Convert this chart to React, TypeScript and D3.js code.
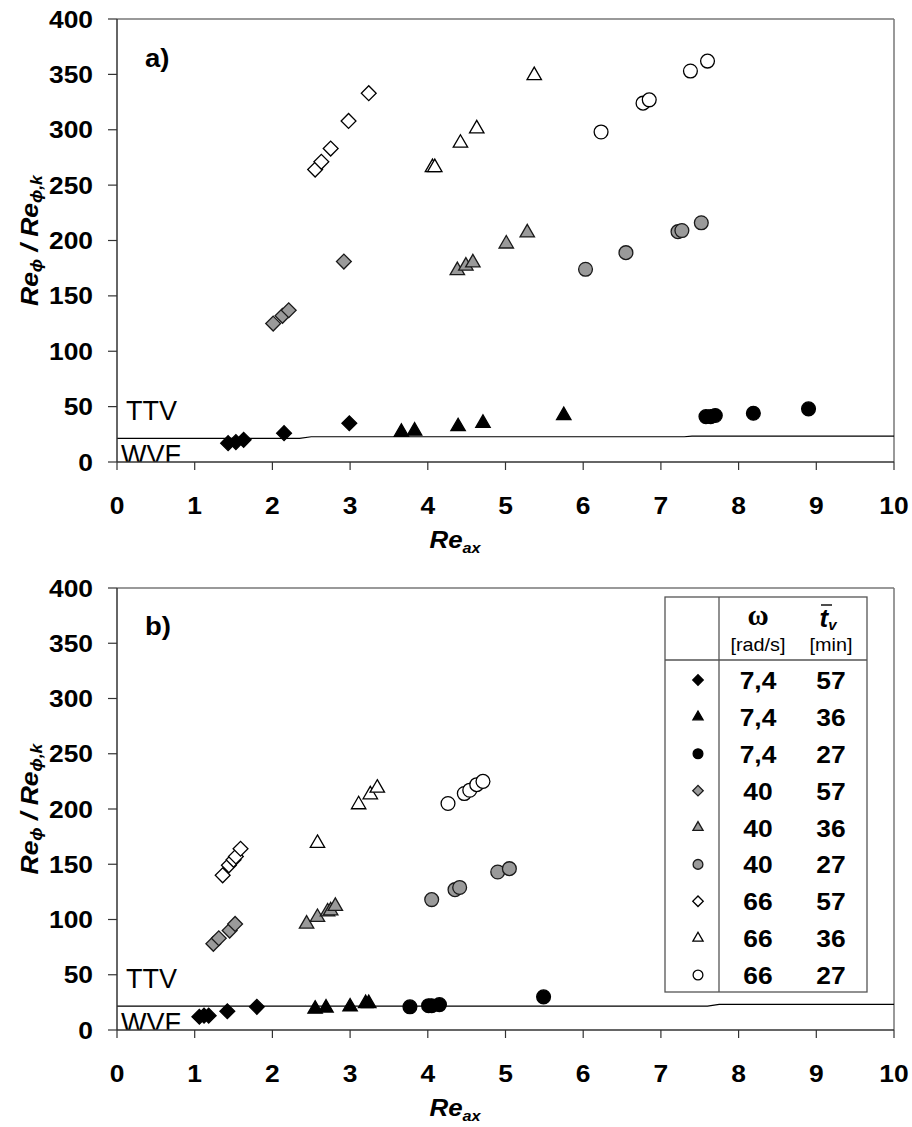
import React from "react";
import * as d3 from "d3";

// ---------- data ----------
const xTicks = [0, 1, 2, 3, 4, 5, 6, 7, 8, 9, 10];
const yTicks = [0, 50, 100, 150, 200, 250, 300, 350, 400];

const seriesKeys = ["d74", "t74", "c74", "d40", "t40", "c40", "d66", "t66", "c66"];
const omegaLabels = ["7,4", "7,4", "7,4", "40", "40", "40", "66", "66", "66"];
const tvLabels = ["57", "36", "27", "57", "36", "27", "57", "36", "27"];

// panel a)
const aD74 = [[1.43, 17], [1.53, 18], [1.63, 20], [2.15, 26], [2.99, 35]];
const aT74 = [[3.66, 27], [3.83, 28], [4.39, 32], [4.71, 35], [5.75, 42]];
const aC74 = [[7.58, 41], [7.64, 41], [7.7, 42], [8.19, 44], [8.9, 48]];
const aD40 = [[2.01, 125], [2.13, 132], [2.21, 137], [2.92, 181]];
const aT40 = [[4.38, 173], [4.49, 177], [4.58, 180], [5.01, 197], [5.28, 207]];
const aC40 = [[6.03, 174], [6.55, 189], [7.22, 208], [7.27, 209], [7.52, 216]];
const aD66 = [[2.55, 264], [2.63, 271], [2.75, 283], [2.98, 308], [3.24, 333]];
const aT66 = [[4.06, 266], [4.09, 266], [4.42, 288], [4.63, 301], [5.37, 349]];
const aC66 = [[6.23, 298], [6.77, 324], [6.85, 327], [7.38, 353], [7.6, 362]];
const boundaryA = [[0, 21.4], [2.35, 21.4], [2.5, 22.8], [7.3, 22.8], [7.4, 23.4], [10, 23.4]];

// panel b)
const bD74 = [[1.06, 12], [1.12, 13], [1.18, 13], [1.42, 17], [1.8, 21]];
const bT74 = [[2.55, 19], [2.69, 20], [3.0, 21], [3.2, 24], [3.24, 24]];
const bC74 = [[3.77, 21], [4.01, 22], [4.05, 22], [4.15, 23], [5.49, 30]];
const bD40 = [[1.24, 78], [1.31, 83], [1.45, 90], [1.52, 96]];
const bT40 = [[2.44, 96], [2.58, 102], [2.71, 107], [2.75, 108], [2.81, 112]];
const bC40 = [[4.05, 118], [4.35, 127], [4.41, 129], [4.9, 143], [5.05, 146]];
const bD66 = [[1.36, 140], [1.44, 149], [1.5, 154], [1.53, 157], [1.59, 164]];
const bT66 = [[2.58, 169], [3.11, 204], [3.26, 213], [3.35, 219]];
const bC66 = [[4.26, 205], [4.47, 214], [4.54, 217], [4.63, 222], [4.71, 225]];
const boundaryB = [[0, 21.6], [7.6, 21.6], [7.75, 23.2], [10, 23.2]];

const panelAData = [aD74, aT74, aC74, aD40, aT40, aC40, aD66, aT66, aC66];
const panelBData = [bD74, bT74, bC74, bD40, bT40, bC40, bD66, bT66, bC66];

// ---------- styles ----------
const FONT = "'Liberation Sans', Arial, Helvetica, sans-serif";
const SERIF = "'Liberation Serif', 'DejaVu Serif', serif";
const styleMap: Record<string, { shape: string; fill: string; stroke: string }> = {
  d74: { shape: "diamond", fill: "#000", stroke: "#000" },
  t74: { shape: "triangle", fill: "#000", stroke: "#000" },
  c74: { shape: "circle", fill: "#000", stroke: "#000" },
  d40: { shape: "diamond", fill: "#9a9a9a", stroke: "#1a1a1a" },
  t40: { shape: "triangle", fill: "#9a9a9a", stroke: "#1a1a1a" },
  c40: { shape: "circle", fill: "#9a9a9a", stroke: "#1a1a1a" },
  d66: { shape: "diamond", fill: "#fff", stroke: "#000" },
  t66: { shape: "triangle", fill: "#fff", stroke: "#000" },
  c66: { shape: "circle", fill: "#fff", stroke: "#000" },
};

function markerPath(shape: string, k: number) {
  if (shape === "diamond") return d3.symbol(d3.symbolSquare, 110 * k)() as string;
  if (shape === "triangle") return d3.symbol(d3.symbolTriangle, 90 * k)() as string;
  return d3.symbol(d3.symbolCircle, 150 * k)() as string;
}

function Marker({ x, y, key2, k }: { x: number; y: number; key2: string; k: number }) {
  const s = styleMap[key2];
  const rot = s.shape === "diamond" ? " rotate(45)" : "";
  return (
    <path
      d={markerPath(s.shape, k)}
      transform={`translate(${x},${y})${rot}`}
      fill={s.fill}
      stroke={s.stroke}
      strokeWidth={1.3}
    />
  );
}

// bold, slightly widened text like the reference
function BT({
  x,
  y,
  anchor,
  size = 24,
  children,
}: {
  x: number;
  y: number;
  anchor: string;
  size?: number;
  children: React.ReactNode;
}) {
  return (
    <text
      transform={`translate(${x},${y}) scale(1.1,1)`}
      textAnchor={anchor}
      fontFamily={FONT}
      fontSize={size}
      fontWeight="bold"
      fill="#000"
    >
      {children}
    </text>
  );
}

const x = d3.scaleLinear().domain([0, 10]).range([117, 894]);

function Panel({
  top,
  bottom,
  data,
  boundary,
  label,
  legend,
  id,
}: {
  top: number;
  bottom: number;
  data: number[][][];
  boundary: number[][];
  label: string;
  legend: boolean;
  id: string;
}) {
  const y = d3.scaleLinear().domain([0, 400]).range([bottom, top]);
  const line = d3
    .line<number[]>()
    .x((d) => x(d[0]))
    .y((d) => y(d[1]));
  const left = x(0);
  const right = x(10);
  const off = bottom - 462;
  return (
    <g>
      <defs>
        <clipPath id={id}>
          <rect x={left} y={top} width={right - left} height={bottom - top} />
        </clipPath>
      </defs>
      {/* frame */}
      <line x1={left} x2={right} y1={top} y2={top} stroke="#777" strokeWidth={1.5} />
      <line x1={right} x2={right} y1={top} y2={bottom} stroke="#777" strokeWidth={1.5} />
      {/* regime texts */}
      <g clipPath={`url(#${id})`}>
        <text x={126} y={420 + off} fontFamily={FONT} fontSize={27} fill="#000">
          TTV
        </text>
        <text x={121} y={464 + off} fontFamily={FONT} fontSize={27} fill="#000">
          WVF
        </text>
      </g>
      {/* boundary line */}
      <path d={line(boundary) as string} fill="none" stroke="#000" strokeWidth={1.2} />
      {/* label */}
      <BT x={145} y={67 + off} anchor="start" size={25}>
        {label}
      </BT>
      {/* legend table */}
      {legend && <LegendTable />}
      {/* markers */}
      {data.map((series, si) =>
        series.map((d, i) => (
          <Marker key={`${si}-${i}`} x={x(d[0])} y={y(d[1])} key2={seriesKeys[si]} k={1} />
        ))
      )}
      {/* axes */}
      <line x1={left} x2={left} y1={top} y2={bottom} stroke="#333" strokeWidth={1.5} />
      <line x1={left} x2={right} y1={bottom} y2={bottom} stroke="#333" strokeWidth={1.5} />
      {yTicks.map((t) => (
        <g key={`y${t}`}>
          <line x1={left - 9} x2={left} y1={y(t)} y2={y(t)} stroke="#333" strokeWidth={1.2} />
          <BT x={93} y={y(t) + 8.5} anchor="end">
            {t}
          </BT>
        </g>
      ))}
      {xTicks.map((t) => (
        <g key={`x${t}`}>
          <line x1={x(t)} x2={x(t)} y1={bottom} y2={bottom + 8} stroke="#333" strokeWidth={1.2} />
          <BT x={x(t)} y={bottom + 51.5} anchor="middle">
            {t}
          </BT>
        </g>
      ))}
      {/* x title */}
      <text
        transform={`translate(455,${bottom + 86}) scale(1.08,1)`}
        textAnchor="middle"
        fontFamily={FONT}
        fontSize={24}
        fontWeight="bold"
        fontStyle="italic"
      >
        Re
        <tspan fontSize={15} dy={5}>
          ax
        </tspan>
      </text>
      {/* y title */}
      <text
        transform={`translate(38,${(top + bottom) / 2}) rotate(-90) scale(1.1,1)`}
        textAnchor="middle"
        fontFamily={FONT}
        fontSize={24}
        fontWeight="bold"
        fontStyle="italic"
      >
        Re
        <tspan fontSize={16} dy={4}>
          ϕ
        </tspan>
        <tspan dy={-4}> / Re</tspan>
        <tspan fontSize={16} dy={4}>
          ϕ,k
        </tspan>
      </text>
    </g>
  );
}

function LegendTable() {
  const bx0 = 665;
  const bx1 = 867;
  const by0 = 597;
  const by1 = 992;
  const div = 719;
  const hdr = 660;
  const rowY = d3.scaleLinear().domain([0, 8]).range([680, 975]);
  const c1 = 758;
  const c2 = 831;
  const mx = 698;
  return (
    <g>
      <rect x={bx0} y={by0} width={bx1 - bx0} height={by1 - by0} fill="#fff" stroke="#555" strokeWidth={1.3} />
      <line x1={div} x2={div} y1={by0} y2={by1} stroke="#555" strokeWidth={1.3} />
      <line x1={bx0} x2={bx1} y1={hdr} y2={hdr} stroke="#555" strokeWidth={1.3} />
      <text x={c1} y={625} textAnchor="middle" fontFamily={SERIF} fontSize={29} fontWeight="bold" fill="#000">
        ω
      </text>
      <text
        transform={`translate(${c1},651) scale(1.1,1)`}
        textAnchor="middle"
        fontFamily={FONT}
        fontSize={18}
      >
        [rad/s]
      </text>
      <text x={c2 - 3} y={627} textAnchor="middle" fontFamily={FONT} fontSize={26} fontWeight="bold" fontStyle="italic">
        t
        <tspan fontSize={15} dy={3}>
          v
        </tspan>
      </text>
      <line x1={c2 - 10} x2={c2 + 1} y1={605} y2={605} stroke="#000" strokeWidth={1.4} />
      <text
        transform={`translate(${c2},651) scale(1.1,1)`}
        textAnchor="middle"
        fontFamily={FONT}
        fontSize={18}
      >
        [min]
      </text>
      {seriesKeys.map((k, i) => (
        <g key={k}>
          <Marker x={mx} y={rowY(i)} key2={k} k={0.5} />
          <BT x={c1} y={rowY(i) + 9} anchor="middle">
            {omegaLabels[i]}
          </BT>
          <BT x={c2} y={rowY(i) + 9} anchor="middle">
            {tvLabels[i]}
          </BT>
        </g>
      ))}
    </g>
  );
}

export default function App() {
  return (
    <svg
      width={912}
      height={1127}
      viewBox="0 0 912 1127"
      style={{ position: "absolute", left: 0, top: 0, background: "#fff" }}
    >
      <rect x={0} y={0} width={912} height={1127} fill="#fff" />
      <Panel top={19} bottom={462} data={panelAData} boundary={boundaryA} label="a)" legend={false} id="clipA" />
      <Panel top={588} bottom={1030} data={panelBData} boundary={boundaryB} label="b)" legend={true} id="clipB" />
    </svg>
  );
}
